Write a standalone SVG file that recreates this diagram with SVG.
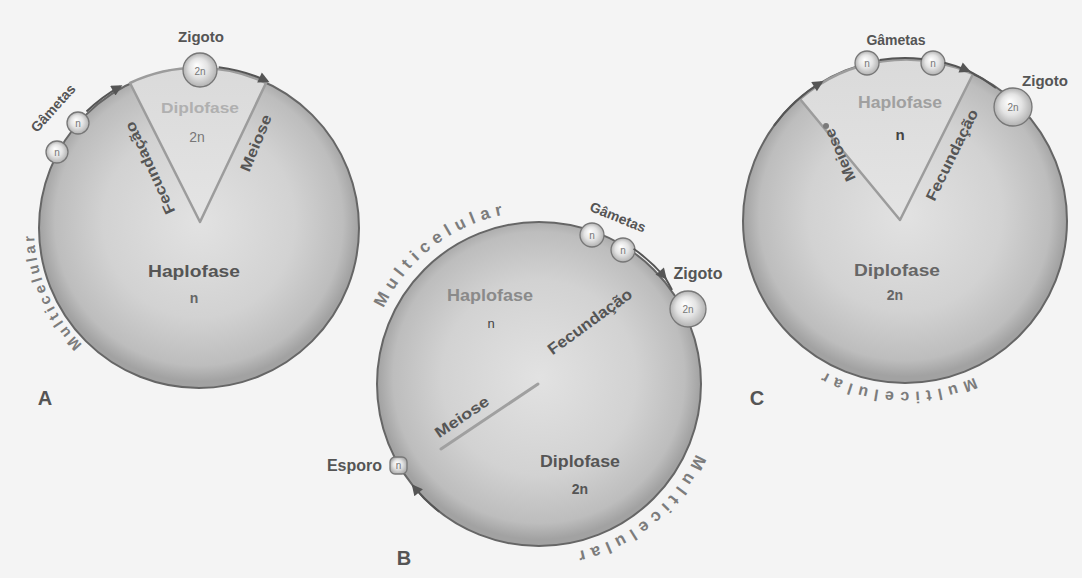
<svg xmlns="http://www.w3.org/2000/svg" width="1082" height="578" viewBox="0 0 1082 578">
<defs>
<radialGradient id="disc" cx="50%" cy="48%" r="50%">
<stop offset="0" stop-color="#e2e2e2"/>
<stop offset="0.6" stop-color="#d2d2d2"/>
<stop offset="0.9" stop-color="#bdbdbd"/>
<stop offset="1" stop-color="#a2a2a2"/>
</radialGradient>
<linearGradient id="wedge" x1="0" y1="0" x2="0" y2="1">
<stop offset="0" stop-color="#dadada"/>
<stop offset="1" stop-color="#e4e4e4"/>
</linearGradient>
<radialGradient id="ball" cx="50%" cy="50%" r="50%" fx="40%" fy="35%">
<stop offset="0" stop-color="#ffffff"/>
<stop offset="0.55" stop-color="#e4e4e4"/>
<stop offset="1" stop-color="#b2b2b2"/>
</radialGradient>
<marker id="ah" viewBox="0 0 10 10" refX="8" refY="5" markerWidth="13" markerHeight="11" markerUnits="userSpaceOnUse" orient="auto">
<path d="M0,0 L10,5 L0,10 z" fill="#555"/>
</marker>
<path id="mA" d="M86.5,348.7 A164,164 0 0 1 34.1,222.2"/>
<path id="mB1" d="M376.4,324.8 A172,172 0 0 1 523.9,211.7"/>
<path id="mB2" d="M702.6,437.1 A172,172 0 0 1 554.0,555.3"/>
<path id="mC" d="M990.5,369.1 A171,171 0 0 1 806.9,361.1"/>
</defs>
<style>
.disc{fill:url(#disc);stroke:#666;stroke-width:2}
.wedge{fill:url(#wedge);stroke:#9c9c9c;stroke-width:2.5;stroke-linejoin:round}
.ball{fill:url(#ball);stroke:#777;stroke-width:1.3}
.t{font-family:"Liberation Sans",Arial,sans-serif;font-weight:bold;fill:#555;text-anchor:middle}
.multi{font-family:"Liberation Sans",Arial,sans-serif;font-weight:bold;fill:#7c7c7c}
.small{font-family:"Liberation Sans",Arial,sans-serif;fill:#777;text-anchor:middle;font-size:10px}
.cyc{fill:none;stroke:#555;stroke-width:2}
.line{stroke:#a0a0a0;stroke-width:3;stroke-linecap:round}
</style>
<rect width="1082" height="578" fill="#f4f4f4"/>

<!-- Diagram A -->
<g id="A">
<circle class="disc" cx="199" cy="228" r="160"/>
<path class="wedge" d="M200,222 L130,83 A160,160 0 0 1 266,83 Z"/>
<text class="t" x="200" y="113" font-size="15" style="fill:#b0b0b0" textLength="78" lengthAdjust="spacingAndGlyphs">Diplofase</text>
<text class="t" x="197" y="142" font-size="14" style="fill:#777;font-weight:normal">2n</text>
<text class="t" transform="translate(150,168) rotate(-114.7)" x="0" y="5" font-size="15" textLength="100" lengthAdjust="spacingAndGlyphs">Fecundação</text>
<text class="t" transform="translate(256,143) rotate(-67.5)" x="0" y="5" font-size="15" textLength="60" lengthAdjust="spacingAndGlyphs">Meiose</text>
<text class="t" x="194" y="277" font-size="17" textLength="92" lengthAdjust="spacingAndGlyphs">Haplofase</text>
<text class="t" x="194" y="303" font-size="14" style="fill:#666">n</text>
<text class="multi" font-size="15"><textPath href="#mA" startOffset="5.8" textLength="122" lengthAdjust="spacing">Multicelular</textPath></text>
<text class="t" x="45" y="405" font-size="20">A</text>
</g>
<g id="A-gametas">
<circle class="ball" cx="57" cy="152" r="11"/>
<circle class="ball" cx="78" cy="123" r="11"/>
<text class="small" x="57" y="156">n</text>
<text class="small" x="78" y="127">n</text>
<text class="t" transform="translate(53,108) rotate(-48)" x="0" y="5" font-size="14">Gâmetas</text>
</g>
<g id="A-zigoto">
<circle class="ball" cx="200" cy="70" r="17"/>
<text class="small" x="200" y="75" font-size="11">2n</text>
<text class="t" x="201" y="42" font-size="15">Zigoto</text>
</g>

<!-- Diagram B -->
<g id="B">
<circle class="disc" cx="539" cy="384" r="162"/>
<line class="line" x1="538" y1="384" x2="441" y2="449"/>
<text class="t" x="490" y="301" font-size="16" style="fill:#8a8a8a" textLength="86" lengthAdjust="spacingAndGlyphs">Haplofase</text>
<text class="t" x="491" y="328" font-size="13" style="fill:#444;font-weight:normal">n</text>
<text class="t" transform="translate(590,322) rotate(-36)" x="0" y="5" font-size="16" textLength="100" lengthAdjust="spacingAndGlyphs">Fecundação</text>
<text class="t" transform="translate(462,417) rotate(-34)" x="0" y="5" font-size="15" textLength="62" lengthAdjust="spacingAndGlyphs">Meiose</text>
<text class="t" x="580" y="467" font-size="16" textLength="80" lengthAdjust="spacingAndGlyphs">Diplofase</text>
<text class="t" x="580" y="494" font-size="14">2n</text>
<text class="multi" font-size="17"><textPath href="#mB1" startOffset="18" textLength="157" lengthAdjust="spacing">Multicelular</textPath></text>
<text class="multi" font-size="17"><textPath href="#mB2" startOffset="18" textLength="159" lengthAdjust="spacing">Multicelular</textPath></text>
<text class="t" x="404" y="565" font-size="20">B</text>
</g>
<g id="B-gametas">
<circle class="ball" cx="592" cy="235" r="12"/>
<circle class="ball" cx="623" cy="250" r="12"/>
<text class="small" x="592" y="239">n</text>
<text class="small" x="623" y="254">n</text>
<text class="t" transform="translate(618,217) rotate(22)" x="0" y="5" font-size="14">Gâmetas</text>
</g>
<g id="B-zigoto">
<circle class="ball" cx="688" cy="309" r="18"/>
<text class="small" x="688" y="313" font-size="11">2n</text>
<text class="t" x="698" y="279" font-size="16">Zigoto</text>
</g>
<g id="B-esporo">
<rect class="ball" x="390" y="457" width="17" height="17" rx="5"/>
<text class="small" x="398.5" y="469">n</text>
<text class="t" x="382" y="471" font-size="16" style="text-anchor:end">Esporo</text>
</g>

<!-- Diagram C -->
<g id="C">
<circle class="disc" cx="905" cy="221" r="162"/>
<path class="wedge" d="M900,220 L800,99 A162,162 0 0 1 973,74 Z"/>
<circle cx="826" cy="126" r="3" fill="#7a7a7a"/>
<text class="t" x="900" y="108" font-size="16" style="fill:#a0a0a0" textLength="84" lengthAdjust="spacingAndGlyphs">Haplofase</text>
<text class="t" x="900" y="140" font-size="15" style="fill:#444">n</text>
<text class="t" transform="translate(840,155) rotate(-114)" x="0" y="5" font-size="15" textLength="56" lengthAdjust="spacingAndGlyphs">Meiose</text>
<text class="t" transform="translate(952,155) rotate(-63.9)" x="0" y="5" font-size="15" textLength="100" lengthAdjust="spacingAndGlyphs">Fecundação</text>
<text class="t" x="897" y="276" font-size="16" style="fill:#666" textLength="86" lengthAdjust="spacingAndGlyphs">Diplofase</text>
<text class="t" x="895" y="300" font-size="14" style="fill:#666">2n</text>
<text class="multi" font-size="16"><textPath href="#mC" startOffset="18" textLength="155" lengthAdjust="spacing">Multicelular</textPath></text>
<text class="t" x="757" y="405" font-size="20">C</text>
</g>
<g id="C-gametas">
<circle class="ball" cx="867" cy="63" r="12"/>
<circle class="ball" cx="933" cy="63" r="12"/>
<text class="small" x="867" y="67">n</text>
<text class="small" x="933" y="67">n</text>
<text class="t" x="896" y="45" font-size="14">Gâmetas</text>
</g>
<g id="C-zigoto">
<circle class="ball" cx="1013" cy="107" r="19"/>
<text class="small" x="1013" y="111" font-size="11">2n</text>
<text class="t" x="1045" y="86" font-size="15">Zigoto</text>
</g>

<!-- Connectors -->
<g id="connectors">
<path class="cyc" d="M86.5,111.5 A162,162 0 0 1 120.5,86.3" marker-end="url(#ah)"/>
<path class="cyc" d="M218.7,67.2 A162,162 0 0 1 267.5,81.2" marker-end="url(#ah)"/>
<path class="cyc" d="M633.6,248.8 A165,165 0 0 1 665.4,277.9" marker-end="url(#ah)"/>
<path class="cyc" d="M665.4,277.9 A165,165 0 0 1 672,290"/>
<path class="cyc" d="M439.3,511.7 A162,162 0 0 1 413.1,485.9" marker-end="url(#ah)"/>
<path class="cyc" d="M773.9,125.8 A162,162 0 0 1 821.6,82.1" marker-end="url(#ah)"/>
<path class="cyc" d="M879.5,60 A163,163 0 0 1 922,58.9"/>
<path class="cyc" d="M944.4,62.8 A163,163 0 0 1 968.7,71.0" marker-end="url(#ah)"/>
<path class="cyc" d="M968.7,71.0 A163,163 0 0 1 996,88"/>
</g>
</svg>
